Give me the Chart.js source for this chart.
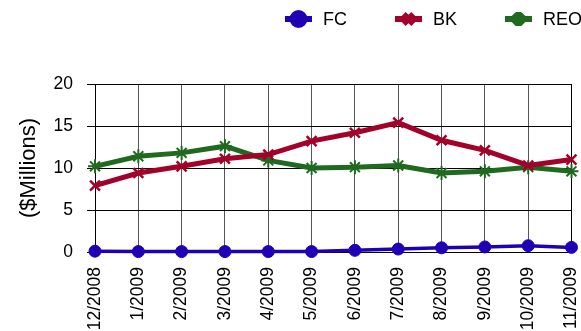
<!DOCTYPE html>
<html>
<head>
<meta charset="utf-8">
<script src="https://cdn.jsdelivr.net/npm/chart.js@4.4.1/dist/chart.umd.min.js"></script>
<style>
  html, body { margin: 0; padding: 0; background: #fff; }
  #wrap { width: 581px; height: 331px; position: relative; }
</style>
</head>
<body>
<div id="wrap"><canvas id="c" width="581" height="331"></canvas></div>
<script>
// Monthly balances, $ millions
const months = ['12/2008','1/2009','2/2009','3/2009','4/2009','5/2009','6/2009','7/2009','8/2009','9/2009','10/2009','11/2009'];
const fcValues  = [0.1, 0.05, 0.05, 0.05, 0.05, 0.05, 0.2, 0.35, 0.5, 0.6, 0.75, 0.55];
const bkValues  = [7.9, 9.4, 10.2, 11.1, 11.6, 13.2, 14.2, 15.4, 13.3, 12.1, 10.3, 11.0];
const reoValues = [10.2, 11.4, 11.8, 12.6, 10.9, 10.0, 10.1, 10.3, 9.4, 9.6, 10.1, 9.6];
const yTicks = [0, 5, 10, 15, 20];

const BLUE = '#2000b4';
const RED = '#a3002a';
const GREEN = '#206a20';
const FONT = "'Liberation Sans', Arial, sans-serif";

// Legend drawn as line + marker samples across the top right
const lineLegend = {
  id: 'lineLegend',
  afterDraw(chart) {
    const ctx = chart.ctx;
    let x = 285;
    const y = 19;
    ctx.save();
    ctx.font = '18px ' + FONT;
    ctx.textBaseline = 'middle';
    chart.data.datasets.forEach(ds => {
      ctx.strokeStyle = ds.borderColor;
      ctx.fillStyle = ds.borderColor;
      ctx.lineWidth = ds.legendLine;
      ctx.beginPath();
      ctx.moveTo(x, y);
      ctx.lineTo(x + 27, y);
      ctx.stroke();
      Chart.helpers.drawPoint(ctx, {
        pointStyle: ds.pointStyle,
        radius: ds.pointRadius,
        borderWidth: ds.pointBorderWidth,
        rotation: 0
      }, x + 13.5, y);
      ctx.fillStyle = '#000';
      ctx.fillText(ds.label, x + 38, y + 1);
      const w = ctx.measureText(ds.label).width;
      x += 38 + w + 48;
    });
    ctx.restore();
  }
};

new Chart(document.getElementById('c'), {
  type: 'line',
  data: {
    labels: months,
    datasets: [
      {
        label: 'FC', data: fcValues, borderColor: BLUE, backgroundColor: BLUE,
        pointBackgroundColor: BLUE, pointBorderColor: BLUE,
        borderWidth: 3.5, legendLine: 6, pointStyle: 'circle', pointRadius: 6, pointBorderWidth: 1,
        tension: 0, clip: false
      },
      {
        label: 'BK', data: bkValues, borderColor: RED, backgroundColor: RED,
        pointBackgroundColor: RED, pointBorderColor: RED,
        borderWidth: 5, legendLine: 6, pointStyle: 'crossRot', pointRadius: 7, pointBorderWidth: 2.5,
        tension: 0, clip: false
      },
      {
        label: 'REO', data: reoValues, borderColor: GREEN, backgroundColor: GREEN,
        pointBackgroundColor: GREEN, pointBorderColor: GREEN,
        borderWidth: 5, legendLine: 6, pointStyle: 'star', pointRadius: 7, pointBorderWidth: 2,
        tension: 0, clip: false
      }
    ]
  },
  options: {
    responsive: false,
    animation: false,
    devicePixelRatio: 1,
    layout: { padding: { top: 84, right: 9, left: 0, bottom: 0 } },
    plugins: {
      legend: { display: false },
      tooltip: { enabled: false }
    },
    scales: {
      x: {
        offset: false,
        grid: {
          color: ctx => (ctx.index === months.length - 1 ? '#000' : '#555'),
          lineWidth: 1,
          drawTicks: false
        },
        border: { display: true, color: '#000', width: 1 },
        ticks: {
          autoSkip: false,
          minRotation: 90,
          maxRotation: 90,
          padding: 15,
          color: '#000',
          font: { family: FONT, size: 17.5 }
        },
        afterFit(scale) {
          scale.height = 79;
          scale.paddingLeft = 0;
          scale.paddingRight = 0;
        }
      },
      y: {
        min: 0,
        max: 20,
        afterBuildTicks(scale) { scale.ticks = yTicks.map(v => ({ value: v })); },
        grid: { color: '#000', lineWidth: 1, drawTicks: true, tickLength: 8 },
        border: { display: true, color: '#000', width: 1 },
        ticks: {
          padding: 14,
          color: '#000',
          font: { family: FONT, size: 17.5 }
        },
        title: {
          display: true,
          text: '($Millions)',
          color: '#000',
          font: { family: FONT, size: 22 },
          padding: { top: 16, bottom: 0 }
        },
        afterFit(scale) {
          scale.width = 95;
          scale.paddingTop = 0;
          scale.paddingBottom = 0;
        }
      }
    }
  },
  plugins: [lineLegend]
});
</script>
</body>
</html>
